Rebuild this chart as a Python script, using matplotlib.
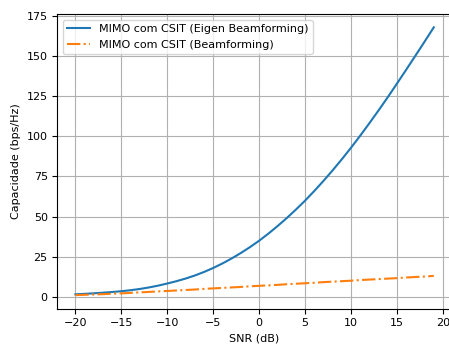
import numpy as np
import matplotlib
matplotlib.use('Agg')
import matplotlib.pyplot as plt

plt.rcParams['font.size'] = 8

snr_db = list(range(-20, 20))

cap_eigen = [1.50, 1.80, 2.13, 2.51, 2.94, 3.44, 4.06, 4.83, 5.78, 6.91,
             8.24, 9.69, 11.34, 13.24, 15.44, 17.94, 20.74, 23.84, 27.24, 30.94,
             34.94, 39.34, 44.04, 49.04, 54.34, 59.94, 65.94, 72.24, 78.84, 85.74,
             92.94, 100.44, 108.24, 116.24, 124.44, 132.94, 141.54, 150.24, 159.04, 167.94]

cap_bf = [1.0, 1.2, 1.4, 1.6, 1.9, 2.1, 2.4, 2.7, 3.0, 3.3,
          3.6, 3.9, 4.2, 4.5, 4.9, 5.2, 5.5, 5.8, 6.1, 6.5,
          6.8, 7.1, 7.4, 7.8, 8.1, 8.4, 8.7, 9.1, 9.4, 9.7,
          10.0, 10.4, 10.7, 11.0, 11.3, 11.6, 12.0, 12.3, 12.6, 13.0]

fig = plt.figure(figsize=(4.49, 3.49), dpi=100)
# the right spine falls just outside the picture, as in the original
ax = fig.add_axes([0.128, 0.116, 0.878, 0.844])
ax.plot(snr_db, cap_eigen, label='MIMO com CSIT (Eigen Beamforming)')
ax.plot(snr_db, cap_bf, '-.', label='MIMO com CSIT (Beamforming)')
ax.set_xlabel('SNR (dB)')
ax.set_ylabel('Capacidade (bps/Hz)')
ax.grid(True)
ax.legend(loc='upper left')
fig.savefig('out.png', dpi=100)
